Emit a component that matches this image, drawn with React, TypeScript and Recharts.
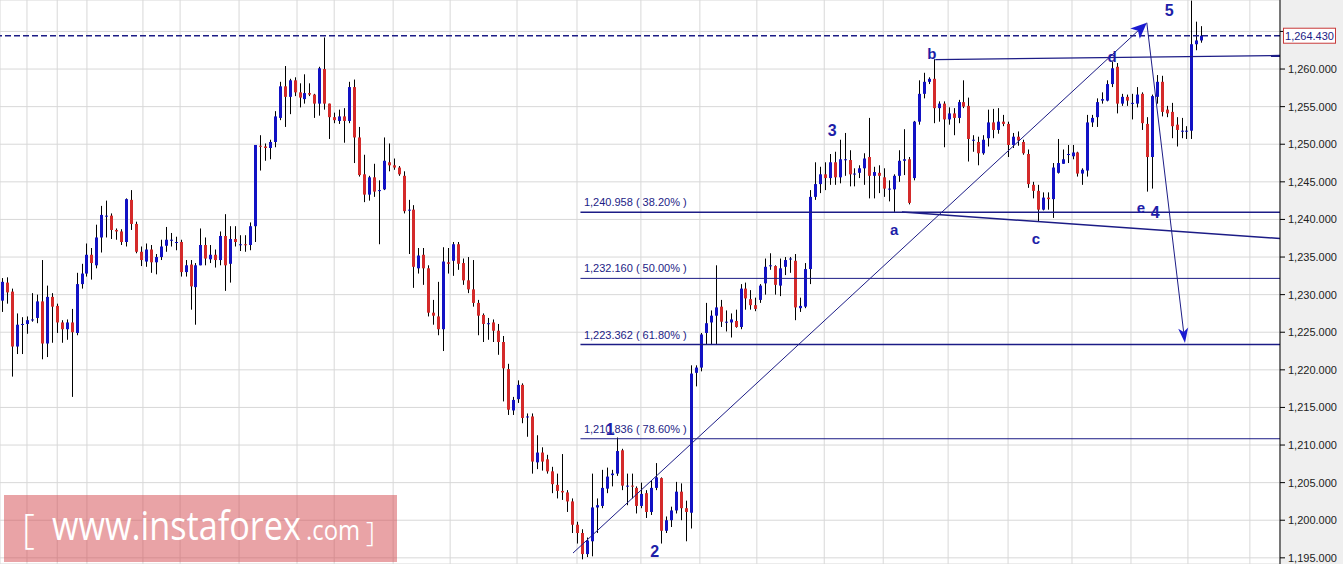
import React from 'react';
import { ComposedChart, Bar, XAxis, YAxis, CartesianGrid, ReferenceLine, ReferenceDot } from 'recharts';

// ---------- data ----------
const opens = [1229.2,1231.6,1230.4,1223.1,1226.1,1226.1,1226.7,1226.9,1229.1,1223.5,
1229.7,1228.5,1226.3,1225.4,1226.3,1224.9,1231.4,1232.8,1235.3,1233.9,
1237.6,1240.5,1240.5,1238.6,1238.4,1237.0,1242.6,1239.4,1235.7,1234.4,
1236.0,1234.3,1235.0,1236.5,1237.3,1236.9,1237.0,1233.0,1234.0,1231.0,
1233.9,1236.6,1234.7,1235.3,1234.6,1237.8,1234.1,1237.4,1236.7,1236.7,
1236.6,1239.1,1249.8,1249.7,1249.5,1250.3,1253.5,1257.7,1256.3,1258.5,
1256.9,1256.0,1256.8,1256.6,1255.4,1260.0,1255.4,1253.6,1253.1,1253.7,
1253.1,1257.6,1250.9,1246.0,1243.3,1245.6,1243.9,1244.0,1247.6,1247.2,
1246.9,1245.8,1241.3,1241.3,1233.5,1235.3,1233.5,1227.6,1227.1,1225.4,
1234.3,1234.5,1236.7,1234.2,1231.9,1230.7,1228.9,1227.3,1226.2,1226.3,
1225.2,1223.7,1220.1,1214.6,1216.1,1218.0,1213.8,1213.8,1207.7,1209.0,
1208.1,1206.5,1204.7,1203.9,1203.7,1202.5,1199.4,1198.3,1195.5,1197.2,
1201.7,1201.9,1204.2,1206.0,1206.2,1209.3,1204.6,1204.6,1204.3,1201.9,
1203.6,1201.1,1204.3,1205.6,1198.6,1200.0,1201.3,1203.8,1201.6,1201.0,
1219.6,1220.3,1224.9,1226.3,1227.2,1228.4,1226.4,1226.3,1226.5,1225.7,
1230.8,1229.4,1228.6,1229.3,1231.5,1233.9,1233.8,1231.2,1233.7,1234.8,
1234.5,1228.2,1228.4,1233.4,1243.0,1244.7,1246.0,1245.5,1247.6,1245.6,
1248.0,1247.9,1246.1,1246.2,1246.8,1248.3,1245.8,1246.2,1245.6,1244.1,
1244.0,1245.8,1247.8,1248.0,1245.5,1253.0,1256.7,1258.3,1258.7,1254.8,
1255.4,1253.3,1254.1,1253.5,1255.6,1255.1,1250.6,1250.3,1248.8,1250.8,
1252.9,1251.9,1253.0,1252.7,1249.9,1251.0,1250.3,1248.7,1244.6,1243.8,
1241.3,1242.9,1242.7,1246.2,1247.4,1248.7,1248.4,1248.9,1246.1,1246.5,
1252.9,1253.6,1255.8,1255.8,1258.0,1260.3,1255.4,1256.3,1255.5,1255.4,
1256.7,1252.7,1248.3,1256.3,1258.3,1254.6,1254.3,1252.6,1251.8,1251.8,
1251.8,1263.3,1263.8];

const highs = [1232.2,1232.3,1230.8,1227.5,1227.0,1227.1,1230.2,1230.0,1234.6,1231.2,
1230.2,1228.8,1226.6,1226.7,1228.1,1232.9,1234.1,1236.8,1236.2,1239.3,
1241.8,1242.5,1240.8,1238.8,1238.7,1242.8,1243.9,1239.7,1236.4,1236.8,
1236.6,1235.4,1237.3,1239.0,1238.2,1237.7,1237.3,1234.6,1234.6,1234.2,
1238.8,1237.6,1236.6,1236.0,1238.4,1240.7,1239.1,1239.1,1237.9,1237.9,
1239.6,1249.9,1251.2,1250.1,1250.6,1254.4,1258.3,1260.4,1258.7,1258.9,
1258.1,1259.3,1258.1,1256.7,1260.3,1264.2,1255.4,1254.2,1254.6,1254.8,
1258.3,1258.6,1252.3,1248.6,1245.8,1247.4,1245.2,1250.9,1250.1,1248.1,
1247.1,1246.4,1242.6,1241.9,1236.2,1236.2,1233.9,1229.3,1231.7,1236.3,
1236.2,1237.0,1237.0,1234.8,1235.0,1234.6,1229.3,1227.5,1226.9,1226.7,
1226.1,1224.5,1220.8,1216.4,1218.6,1218.2,1214.2,1214.2,1211.3,1209.7,
1208.7,1207.1,1206.2,1208.8,1204.0,1202.9,1199.8,1198.8,1197.7,1206.2,
1202.9,1206.7,1207.0,1206.7,1211.0,1209.5,1206.2,1206.2,1204.5,1205.0,
1204.0,1205.3,1207.6,1205.7,1200.5,1201.8,1205.1,1204.9,1202.6,1220.6,
1220.6,1224.9,1228.9,1227.9,1233.9,1229.3,1227.9,1227.5,1228.0,1231.4,
1231.6,1230.6,1229.6,1231.4,1234.8,1235.5,1233.9,1234.8,1235.0,1235.0,
1235.4,1229.6,1234.2,1243.9,1247.6,1247.0,1247.6,1248.7,1249.0,1250.6,
1251.5,1249.2,1246.8,1247.2,1248.8,1253.5,1247.0,1247.2,1246.8,1245.2,
1246.0,1249.2,1252.0,1248.3,1253.1,1258.5,1259.5,1258.9,1261.3,1255.7,
1255.7,1254.9,1254.8,1255.9,1258.5,1256.2,1251.2,1251.0,1251.2,1254.6,
1254.7,1254.8,1253.9,1253.0,1251.5,1251.7,1250.6,1249.3,1245.0,1244.6,
1243.6,1243.6,1247.5,1250.7,1249.3,1249.9,1249.9,1249.0,1246.8,1253.9,
1253.9,1256.1,1256.9,1258.5,1261.0,1260.8,1256.7,1256.6,1256.7,1257.6,
1256.9,1253.6,1256.6,1259.2,1259.1,1255.1,1255.5,1253.6,1253.5,1252.4,
1269.1,1266.3,1265.7];

const lows = [1227.7,1228.8,1219.1,1222.1,1222.1,1224.8,1226.4,1226.2,1221.4,1221.7,
1223.6,1224.9,1223.6,1224.0,1216.4,1224.6,1230.8,1232.4,1232.0,1233.5,
1235.6,1237.6,1237.4,1237.3,1236.6,1236.4,1238.6,1235.5,1233.8,1233.7,
1232.9,1232.7,1234.6,1235.7,1236.4,1235.9,1232.4,1232.4,1228.0,1226.0,
1233.9,1233.9,1234.2,1233.6,1233.9,1230.5,1231.6,1236.4,1235.8,1235.7,
1235.9,1237.0,1246.5,1247.8,1248.0,1249.6,1253.2,1252.3,1254.0,1256.4,
1254.9,1255.4,1256.4,1253.5,1253.8,1254.6,1250.7,1252.8,1252.7,1250.2,
1252.8,1247.5,1245.7,1242.3,1242.5,1243.0,1236.7,1243.9,1246.4,1246.6,
1245.8,1240.8,1235.4,1230.9,1232.8,1231.3,1227.1,1226.0,1224.6,1222.5,
1232.8,1232.5,1233.3,1231.3,1230.2,1228.4,1224.6,1223.7,1224.0,1223.7,
1222.0,1215.8,1214.0,1214.0,1215.6,1212.9,1211.1,1206.2,1206.8,1206.6,
1206.2,1203.6,1202.9,1202.7,1201.1,1198.3,1196.9,1194.8,1195.1,1195.2,
1198.3,1201.6,1203.6,1204.5,1205.9,1204.0,1202.0,1202.9,1200.9,1201.6,
1200.3,1200.7,1204.0,1196.9,1198.3,1199.1,1200.9,1200.0,1197.2,1198.9,
1217.8,1219.8,1223.4,1223.3,1223.3,1225.7,1225.1,1224.3,1225.6,1225.4,
1228.0,1228.0,1227.8,1228.9,1230.0,1233.3,1230.0,1229.8,1232.6,1232.9,
1226.6,1227.7,1228.2,1231.4,1242.6,1243.5,1243.9,1244.6,1244.6,1244.8,
1245.8,1244.4,1244.4,1245.5,1244.6,1242.8,1242.8,1243.5,1243.0,1242.4,
1241.0,1245.0,1245.9,1242.0,1245.2,1252.6,1256.1,1258.0,1252.8,1253.0,
1249.6,1252.6,1251.2,1252.8,1254.8,1247.7,1249.0,1247.2,1248.6,1249.7,
1250.8,1251.4,1252.4,1248.3,1249.5,1249.8,1248.6,1244.2,1242.8,1239.7,
1241.2,1241.3,1240.2,1246.1,1247.4,1247.5,1248.0,1245.7,1244.6,1245.7,
1252.3,1252.3,1255.4,1255.7,1257.6,1254.1,1255.1,1255.1,1253.3,1254.9,
1251.9,1243.7,1244.1,1255.4,1253.7,1253.6,1250.8,1249.7,1250.8,1250.7,
1250.7,1262.5,1263.5];

const closes = [1231.7,1230.3,1223.1,1226.0,1226.1,1226.6,1226.7,1229.1,1223.5,1229.7,
1228.4,1226.3,1225.4,1226.3,1225.0,1231.4,1232.8,1235.3,1234.2,1237.6,
1240.6,1240.5,1238.6,1238.4,1237.0,1242.7,1239.4,1235.7,1234.6,1236.0,
1234.3,1235.0,1236.4,1237.3,1237.3,1237.0,1233.0,1233.9,1231.1,1233.9,
1236.6,1234.8,1235.3,1234.6,1237.8,1233.9,1237.4,1237.0,1236.7,1236.6,
1239.1,1249.9,1249.7,1249.5,1250.3,1253.7,1257.7,1256.3,1258.5,1256.9,
1256.2,1256.8,1256.6,1255.4,1260.1,1255.4,1253.6,1253.2,1253.7,1253.1,
1257.6,1250.9,1245.9,1243.3,1245.6,1243.7,1243.9,1247.8,1247.2,1246.9,
1246.0,1241.1,1241.3,1233.7,1235.2,1233.5,1227.6,1227.2,1225.4,1234.4,
1234.1,1236.7,1234.1,1231.9,1230.7,1228.9,1227.2,1226.1,1226.2,1225.2,
1223.7,1220.2,1214.7,1216.0,1218.0,1213.6,1213.8,1207.8,1209.0,1207.8,
1206.5,1204.8,1203.9,1203.7,1202.5,1199.4,1198.3,1195.5,1197.3,1201.7,
1202.0,1204.3,1205.8,1206.2,1209.2,1204.6,1204.6,1204.5,1201.9,1203.5,
1201.1,1204.3,1205.7,1198.6,1200.0,1201.3,1203.8,1201.6,1201.1,1219.5,
1220.3,1224.7,1226.2,1227.2,1228.3,1226.4,1226.4,1226.7,1225.7,1230.8,
1229.5,1228.6,1228.1,1231.2,1233.7,1233.9,1231.3,1233.5,1234.6,1234.8,
1228.3,1228.5,1233.4,1243.0,1244.7,1246.0,1245.5,1247.6,1245.6,1248.0,
1248.0,1246.0,1246.1,1246.8,1248.1,1245.8,1246.3,1245.8,1244.1,1244.1,
1245.8,1247.8,1248.0,1242.2,1253.0,1256.7,1258.3,1258.7,1254.8,1255.4,
1253.3,1254.1,1253.5,1255.6,1255.0,1250.7,1250.6,1248.8,1250.6,1252.9,
1251.9,1253.0,1252.7,1249.9,1251.0,1250.5,1248.8,1244.7,1243.8,1241.3,
1242.9,1242.7,1246.9,1247.5,1248.0,1248.7,1248.9,1246.1,1246.6,1252.9,
1253.5,1255.6,1256.0,1258.0,1260.1,1255.4,1256.3,1255.8,1255.5,1256.6,
1252.8,1248.3,1256.4,1258.3,1254.3,1254.1,1252.4,1251.9,1251.8,1251.8,
1263.3,1263.8,1264.43];

const yTicks = [1195,1200,1205,1210,1215,1220,1225,1230,1235,1240,1245,1250,1255,1260,1265];
const gridIdx = [4.9,11.0,17.0,23.1,28.3,35.8,41.8,47.7,53.7,59.4,66.9,72.7,78.8,84.8,90.3,97.7,103.8,109.9,115.9,121.2,128.8,134.9,140.7,146.8,152.2,159.9,165.8,172.0,177.7,184.1,190.8,196.8,202.9,209.4,215.8,221.7,227.7,233.6,239.2,244.7,251.7];
const xDomain = [-0.545, 257.78];
const yDomain = [1194.18, 1269.18];
const lastPrice = 1264.43;

const fibValues = [1240.958, 1232.16, 1223.362, 1210.836];
const fibPcts = ['38.20%', '50.00%', '61.80%', '78.60%'];
const fibStartIdx = 116.6;
const fibLabelIdx = 117.3;

// trend lines: [x1, y1, x2, y2] in (candle index, price)
const upArrow = [115.1, 1195.64, 230.9, 1266.16];
const downArrow = [230.9, 1266.16, 238.6, 1223.56];
const bLine = [188.2, 1261.26, 257.78, 1261.8];
const aLine = [181.5, 1240.98, 257.78, 1237.46];

const waveText = ['1', '2', '3', 'a', 'b', 'c', 'd', 'e', '4', '5'];
const waveIdx = [122.6, 131.6, 167.4, 179.9, 187.5, 208.5, 223.9, 229.7, 232.6, 235.4];
const wavePrice = [1212.0, 1195.9, 1251.8, 1238.7, 1262.0, 1237.4, 1261.7, 1241.6, 1240.9, 1267.85];

const data = opens.map((o, i) => ({ i, open: o, high: highs[i], low: lows[i], close: closes[i] }));

const NAVY = '#1c1c86';
const ARROW = '#1a1ad0';
const UP = '#1212c4';
const DOWN = '#d42a2a';
const LABEL_FONT = '"Liberation Sans", Arial, sans-serif';

const fmtPrice = (v: number) => v.toLocaleString('en-US', { minimumFractionDigits: 3, maximumFractionDigits: 3 });

const CandleShape = (props: any) => {
  const { x, y, width, height, payload } = props;
  if (x == null || y == null || !payload) return null;
  const { open, close, high, low } = payload;
  const top0 = Math.min(y, y + height);
  const h = Math.abs(height);
  const cx = Math.round(x + width / 2 - 0.5);
  const span = high - low;
  const py = (v: number) => (span === 0 ? top0 : top0 + ((high - v) / span) * h);
  const bTop = py(Math.max(open, close));
  const bBot = py(Math.min(open, close));
  const color = close >= open ? UP : DOWN;
  const bh = Math.max(1, bBot - bTop);
  return (
    <g>
      <line x1={cx + 0.5} x2={cx + 0.5} y1={top0} y2={top0 + h} stroke="#000" strokeWidth={1} />
      <rect x={cx - 1} y={bTop} width={3} height={bh} fill={color} />
    </g>
  );
};

const makeArrow = (len: number, half: number) => (props: any) => {
  const { x1, y1, x2, y2 } = props;
  if ([x1, y1, x2, y2].some((v) => v == null || isNaN(v))) return null;
  const ang = Math.atan2(y2 - y1, x2 - x1);
  const bx = x2 - len * Math.cos(ang);
  const by = y2 - len * Math.sin(ang);
  const nx = -Math.sin(ang) * half;
  const ny = Math.cos(ang) * half;
  const mx = x2 - len * 0.75 * Math.cos(ang);
  const my = y2 - len * 0.75 * Math.sin(ang);
  return (
    <g>
      <line x1={x1} y1={y1} x2={mx} y2={my} stroke={NAVY} strokeWidth={1} />
      <polygon points={`${x2},${y2} ${bx + nx},${by + ny} ${mx},${my} ${bx - nx},${by - ny}`} fill={ARROW} />
    </g>
  );
};

const upArrowShape = makeArrow(16, 7);
const downArrowShape = makeArrow(15, 5);

const PriceTag = (props: any) => {
  const { cx, cy } = props;
  if (cx == null || cy == null) return null;
  return (
    <g>
      <rect x={cx + 3.5} y={cy - 7.5} width={52} height={15} fill="#fff" stroke="#c83a3a" strokeWidth={1} />
      <text x={cx + 29.5} y={cy + 4} textAnchor="middle" fontSize={11} fontFamily={LABEL_FONT} fill={NAVY}>
        {fmtPrice(lastPrice)}
      </text>
    </g>
  );
};

const makeText = (txt: string, opts: any) => (props: any) => {
  const { cx, cy } = props;
  if (cx == null || cy == null) return null;
  return (
    <text x={cx} y={cy + (opts.dy || 0)} textAnchor={opts.anchor || 'middle'} dominantBaseline={opts.baseline || 'central'}
      fontSize={opts.size} fontWeight={opts.weight || 'normal'} fontFamily={opts.family || 'Arial, "Liberation Sans", sans-serif'} fill={opts.fill}>
      {txt}
    </text>
  );
};

export default function App() {
  const fibWidths = [1.6, 1, 1.6, 1];
  return (
    <div style={{ position: 'absolute', left: 0, top: 0, width: 1343, height: 564, overflow: 'hidden',
      background: 'linear-gradient(to right, #ffffff 0px, #ffffff 1281px, #efefef 1281px, #efefef 1343px)' }}>
      <ComposedChart width={1343} height={564} data={data} margin={{ top: 0, right: 0, bottom: 0, left: 0 }}>
        <CartesianGrid stroke="#d8d8d8" strokeWidth={1} />
        <XAxis type="number" dataKey="i" domain={xDomain} ticks={gridIdx} allowDataOverflow hide />
        <YAxis orientation="right" width={63} domain={yDomain} ticks={yTicks} allowDataOverflow interval={0}
          tickFormatter={(v: number) => (v === 1265 ? '' : fmtPrice(v))}
          tick={{ fill: '#222', fontSize: 11, fontFamily: LABEL_FONT }} tickSize={5} tickMargin={3}
          axisLine={{ stroke: '#000' }} tickLine={{ stroke: '#000' }} />

        {fibValues.map((v, k) => (
          <ReferenceLine key={'fib' + k} segment={[{ x: fibStartIdx, y: v }, { x: xDomain[1], y: v }]}
            stroke={NAVY} strokeWidth={fibWidths[k]} ifOverflow="visible" />
        ))}
        <ReferenceLine segment={[{ x: aLine[0], y: aLine[1] }, { x: aLine[2], y: aLine[3] }]} stroke={NAVY} strokeWidth={1.5} ifOverflow="visible" />
        <ReferenceLine segment={[{ x: bLine[0], y: bLine[1] }, { x: bLine[2], y: bLine[3] }]} stroke={NAVY} strokeWidth={1.3} ifOverflow="visible" />
        <ReferenceLine y={lastPrice} stroke={NAVY} strokeWidth={1.4} strokeDasharray="6 3" ifOverflow="visible" />

        <Bar dataKey={(d: any) => [d.low, d.high]} barSize={3} shape={CandleShape} isAnimationActive={false} />

        <ReferenceLine segment={[{ x: upArrow[0], y: upArrow[1] }, { x: upArrow[2], y: upArrow[3] }]} ifOverflow="visible" shape={upArrowShape} />
        <ReferenceLine segment={[{ x: downArrow[0], y: downArrow[1] }, { x: downArrow[2], y: downArrow[3] }]} ifOverflow="visible" shape={downArrowShape} />

        {fibValues.map((v, k) => (
          <ReferenceDot key={'fl' + k} x={fibLabelIdx} y={v} r={0} ifOverflow="visible"
            shape={makeText(`${fmtPrice(v)} ( ${fibPcts[k]} )`, { anchor: 'start', baseline: 'alphabetic', dy: -6, size: 11, fill: NAVY, family: LABEL_FONT })} />
        ))}

        {waveText.map((t, k) => (
          <ReferenceDot key={'w' + k} x={waveIdx[k]} y={wavePrice[k]} r={0} ifOverflow="visible"
            shape={makeText(t, { size: /[0-9]/.test(t) ? 16 : 15, weight: 'bold', fill: '#1e1ea8' })} />
        ))}

        <ReferenceDot x={xDomain[1]} y={lastPrice} r={0} ifOverflow="visible" shape={PriceTag} />
      </ComposedChart>

      <svg width={1343} height={564} style={{ position: 'absolute', left: 0, top: 0, pointerEvents: 'none' }}>
        <rect x={4} y={495} width={393} height={67} fill="rgba(212,72,78,0.5)" />
        <text x={22} y={543} fontSize={40} fill="#fff" fontFamily='"Open Sans", sans-serif' fontWeight={300}>[</text>
        <text x={52} y={540} fontSize={40} fill="#fff" fontFamily='"Open Sans", sans-serif' textLength={249} lengthAdjust="spacingAndGlyphs">www.instaforex</text>
        <text x={306} y={540} fontSize={27} fill="#fff" fontFamily='"Open Sans", sans-serif' textLength={54} lengthAdjust="spacingAndGlyphs">.com</text>
        <text x={366} y={542} fontSize={28} fill="#fff" fontFamily='"Open Sans", sans-serif' fontWeight={300}>]</text>
      </svg>
    </div>
  );
}
